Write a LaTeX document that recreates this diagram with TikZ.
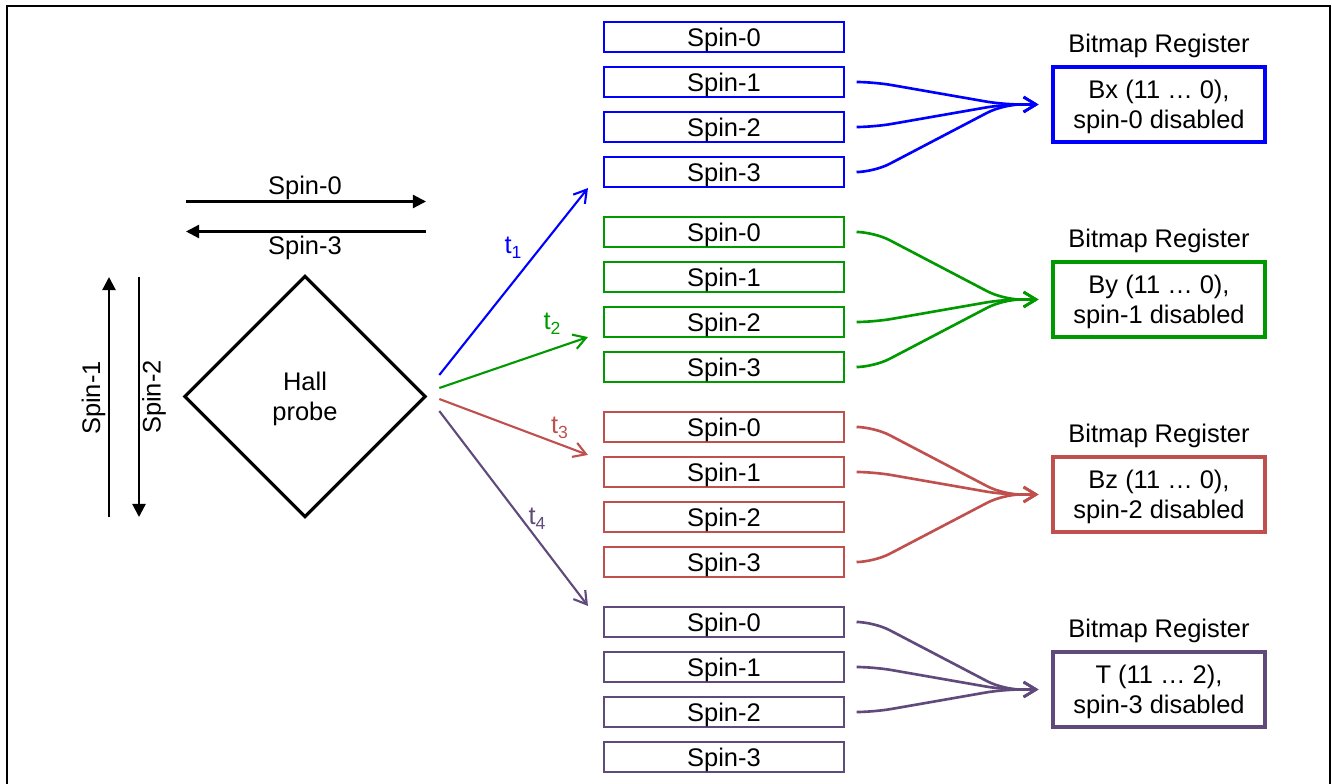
\documentclass[tikz,border=0pt]{standalone}
\usepackage{fontspec}
\setmainfont{Liberation Sans}
\usetikzlibrary{shapes,arrows,arrows.meta,calc,positioning}
\definecolor{sblue}{RGB}{0,0,255}
\definecolor{sgreen}{RGB}{0,153,0}
\definecolor{sred}{RGB}{192,80,77}
\definecolor{spurple}{RGB}{96,74,123}
\newcommand{\tlab}[1]{t\raisebox{-0.2em}{\fontsize{10}{10}\selectfont #1}}

\begin{document}
\begin{tikzpicture}[x=0.02cm,y=-0.02cm,font=\fontsize{14.5}{17}\selectfont]
             \tikzstyle{spinbox} = [draw,line width=1.2pt,minimum width=4.8cm,minimum height=0.6cm,inner sep=0pt,text depth=0pt]
             \tikzstyle{register} = [draw,line width=1.8pt,minimum width=4.24cm,minimum height=1.5cm,inner sep=0pt,align=center,text depth=0pt]
             \tikzstyle{fan} = [line width=1.5pt,rounded corners=0.35cm,-{Straight Barb[length=7pt,width=8.5pt]}]
             \tikzstyle{tarrow} = [line width=1.2pt,-{Straight Barb[length=7pt,width=8.5pt]}]
             \tikzstyle{spinarrow} = [line width=1.3pt,-{Triangle[length=7.5pt,width=7.5pt]}]
		\useasboundingbox (0,0) rectangle (1332,784);
		% Frame
		\draw[line width=1pt] (7,800) -- (7,6) -- (1330,6) -- (1330,800);
		% Probe
		\node[draw,diamond,aspect=1,line width=1.8pt,minimum size=4.83cm,inner sep=0pt,align=center,text depth=0pt] (hall) at (305,396.5) {Hall\\probe};
		% Spin directions
		\coordinate (h0a) at (186,201.5);
		\coordinate (h0b) at (426,201.5);
		\draw[spinarrow] (h0a) -- (h0b);
		\node (l0) at (305,188) {Spin-0};
		\coordinate (h3a) at (426,231.5);
		\coordinate (h3b) at (186,231.5);
		\draw[spinarrow] (h3a) -- (h3b);
		\node (l3) at (305,248) {Spin-3};
		\coordinate (v1a) at (109,517);
		\coordinate (v1b) at (109,277);
		\draw[spinarrow] (v1a) -- (v1b);
		\node[rotate=90] (l1) at (93.5,398) {Spin-1};
		\coordinate (v2a) at (139,277);
		\coordinate (v2b) at (139,517);
		\draw[spinarrow] (v2a) -- (v2b);
		\node[rotate=90] (l2) at (154,397) {Spin-2};
		% Group 1
		\node[spinbox,draw=sblue] (s0_0) at (724,37) {Spin-0};
		\node[spinbox,draw=sblue] (s0_1) at (724,82) {Spin-1};
		\node[spinbox,draw=sblue] (s0_2) at (724,127) {Spin-2};
		\node[spinbox,draw=sblue] (s0_3) at (724,172) {Spin-3};
		\node (b0) at (1159,46) {Bitmap Register};
		\node[register,draw=sblue] (r0) at (1159,104.5) {Bx (11 … 0),\\spin-0 disabled};
		\coordinate (m0) at (1003,104.5);
		\draw[fan,sblue] ($(s0_1.east)+(14,0)$) -- ++(15,0) -- (m0) -- ($(r0.west)+(-13,0)$);
		\draw[fan,sblue] ($(s0_2.east)+(14,0)$) -- ++(15,0) -- (m0) -- ($(r0.west)+(-13,0)$);
		\draw[fan,sblue] ($(s0_3.east)+(14,0)$) -- ++(15,0) -- (m0) -- ($(r0.west)+(-13,0)$);
		% Group 2
		\node[spinbox,draw=sgreen] (s1_0) at (724,232) {Spin-0};
		\node[spinbox,draw=sgreen] (s1_1) at (724,277) {Spin-1};
		\node[spinbox,draw=sgreen] (s1_2) at (724,322) {Spin-2};
		\node[spinbox,draw=sgreen] (s1_3) at (724,367) {Spin-3};
		\node (b1) at (1159,241) {Bitmap Register};
		\node[register,draw=sgreen] (r1) at (1159,299.5) {By (11 … 0),\\spin-1 disabled};
		\coordinate (m1) at (1003,299.5);
		\draw[fan,sgreen] ($(s1_0.east)+(14,0)$) -- ++(15,0) -- (m1) -- ($(r1.west)+(-13,0)$);
		\draw[fan,sgreen] ($(s1_2.east)+(14,0)$) -- ++(15,0) -- (m1) -- ($(r1.west)+(-13,0)$);
		\draw[fan,sgreen] ($(s1_3.east)+(14,0)$) -- ++(15,0) -- (m1) -- ($(r1.west)+(-13,0)$);
		% Group 3
		\node[spinbox,draw=sred] (s2_0) at (724,427) {Spin-0};
		\node[spinbox,draw=sred] (s2_1) at (724,472) {Spin-1};
		\node[spinbox,draw=sred] (s2_2) at (724,517) {Spin-2};
		\node[spinbox,draw=sred] (s2_3) at (724,562) {Spin-3};
		\node (b2) at (1159,436) {Bitmap Register};
		\node[register,draw=sred] (r2) at (1159,494.5) {Bz (11 … 0),\\spin-2 disabled};
		\coordinate (m2) at (1003,494.5);
		\draw[fan,sred] ($(s2_0.east)+(14,0)$) -- ++(15,0) -- (m2) -- ($(r2.west)+(-13,0)$);
		\draw[fan,sred] ($(s2_1.east)+(14,0)$) -- ++(15,0) -- (m2) -- ($(r2.west)+(-13,0)$);
		\draw[fan,sred] ($(s2_3.east)+(14,0)$) -- ++(15,0) -- (m2) -- ($(r2.west)+(-13,0)$);
		% Group 4
		\node[spinbox,draw=spurple] (s3_0) at (724,622) {Spin-0};
		\node[spinbox,draw=spurple] (s3_1) at (724,667) {Spin-1};
		\node[spinbox,draw=spurple] (s3_2) at (724,712) {Spin-2};
		\node[spinbox,draw=spurple] (s3_3) at (724,757) {Spin-3};
		\node (b3) at (1159,631) {Bitmap Register};
		\node[register,draw=spurple] (r3) at (1159,689.5) {T (11 … 2),\\spin-3 disabled};
		\coordinate (m3) at (1003,689.5);
		\draw[fan,spurple] ($(s3_0.east)+(14,0)$) -- ++(15,0) -- (m3) -- ($(r3.west)+(-13,0)$);
		\draw[fan,spurple] ($(s3_1.east)+(14,0)$) -- ++(15,0) -- (m3) -- ($(r3.west)+(-13,0)$);
		\draw[fan,spurple] ($(s3_2.east)+(14,0)$) -- ++(15,0) -- (m3) -- ($(r3.west)+(-13,0)$);
		% Sampling times
		\draw[tarrow,sblue] ($(hall.east)+(12,-21.5)$) -- ($(s0_3.south west)+(-15,0)$);
		\node[text=sblue] (t1) at (513,248) {\tlab{1}};
		\draw[tarrow,sgreen] ($(hall.east)+(12,-8.5)$) -- ($(s1_2.south west)+(-15,-1)$);
		\node[text=sgreen] (t2) at (552,323.5) {\tlab{2}};
		\draw[tarrow,sred] ($(hall.east)+(12,2.5)$) -- ($(s2_1.north west)+(-15,-1)$);
		\node[text=sred] (t3) at (559.5,428) {\tlab{3}};
		\draw[tarrow,spurple] ($(hall.east)+(12,14.5)$) -- ($(s3_0.north west)+(-15,0)$);
		\node[text=spurple] (t4) at (537,519) {\tlab{4}};
		\end{tikzpicture}
\end{document}
